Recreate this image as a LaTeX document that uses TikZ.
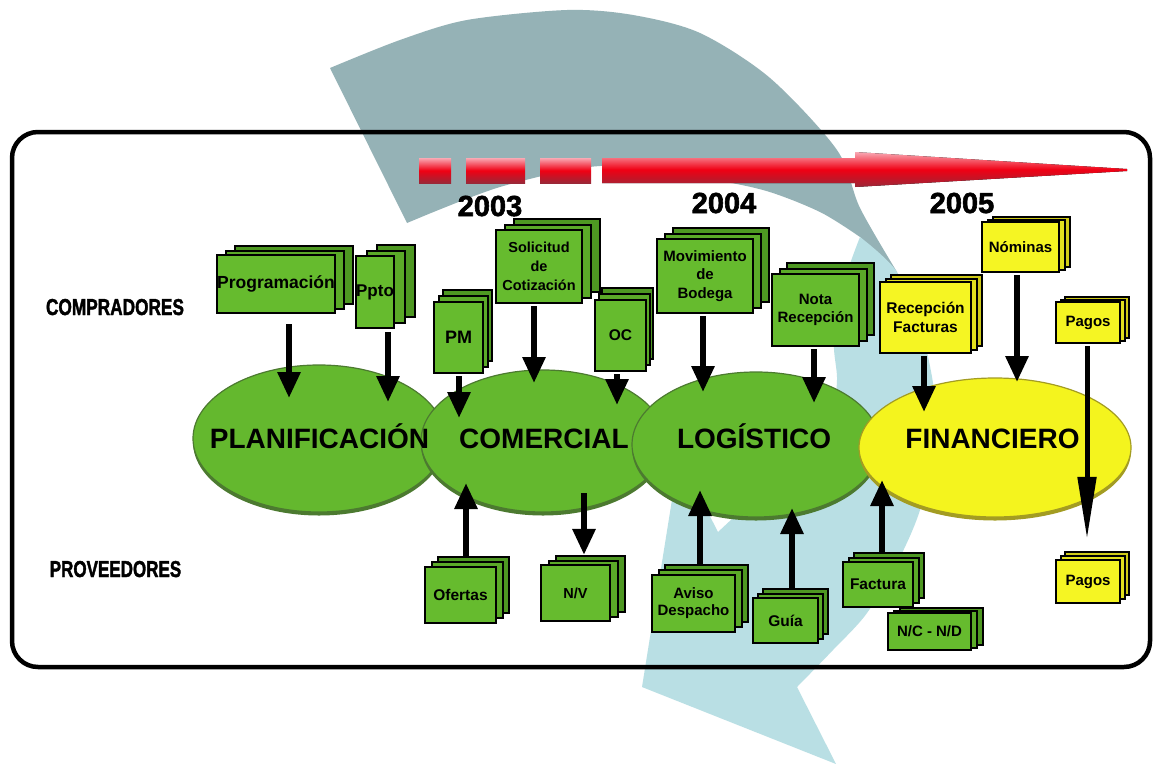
\documentclass[tikz,border=0pt]{standalone}
\usepackage{fontspec}
\setmainfont{Liberation Sans}
\newfontfamily\heavyfont[BoldFeatures={FakeBold=2}]{Liberation Sans}
\usetikzlibrary{arrows.meta,shadows,shapes.geometric}
\definecolor{bandgray}{HTML}{95B2B6}
\definecolor{bandblue}{HTML}{B9DFE4}
\definecolor{gfill}{HTML}{66BB2E}
\definecolor{gmid}{HTML}{5BAA28}
\definecolor{gback}{HTML}{4E9822}
\definecolor{yfill}{HTML}{F5F523}
\definecolor{ymid}{HTML}{E2E01E}
\definecolor{yback}{HTML}{CFCB18}
\definecolor{egreen}{HTML}{64B82E}
\definecolor{erim}{HTML}{4C7A30}
\definecolor{eyellow}{HTML}{F4F41E}
\definecolor{eyrim}{HTML}{A39C22}
\definecolor{rtop}{HTML}{F9A9B4}
\definecolor{rmid}{HTML}{F00014}
\definecolor{rbot}{HTML}{9A2838}
\begin{document}
\begin{tikzpicture}[x=1pt,y=-1pt,
  doc/.style={draw=black, line width=2.2pt, inner sep=0pt, align=center, text=black,
    font=\bfseries\fontsize{15.5}{18.5}\selectfont},
  gdoc/.style 2 args={doc, fill=gfill,
    copy shadow={shadow xshift=#1*2pt, shadow yshift=#2*2pt, fill=gback, draw=black, line width=2pt},
    copy shadow={shadow xshift=#1*1pt, shadow yshift=#2*1pt, fill=gmid, draw=black, line width=2pt}},
  ydoc/.style 2 args={doc, fill=yfill,
    copy shadow={shadow xshift=#1*2pt, shadow yshift=#2*2pt, fill=yback, draw=black, line width=2pt},
    copy shadow={shadow xshift=#1*1pt, shadow yshift=#2*1pt, fill=ymid, draw=black, line width=2pt}},
  gell/.style={ellipse, inner sep=0pt, fill=egreen, draw=erim, line width=1.2pt,
    drop shadow={shadow xshift=0pt, shadow yshift=-3.5pt, fill=erim, opacity=1}},
  yell/.style={ellipse, inner sep=0pt, fill=eyellow, draw=eyrim, line width=1.2pt,
    drop shadow={shadow xshift=0pt, shadow yshift=-3.5pt, fill=eyrim, opacity=1}},
  elltext/.style={anchor=base, inner sep=0pt, font=\bfseries\fontsize{28}{30}\selectfont},
  year/.style={anchor=base, inner sep=0pt, font=\heavyfont\bfseries\fontsize{29}{30}\selectfont},
  side/.style={anchor=base, inner sep=0pt, font=\heavyfont\bfseries\fontsize{23}{24}\selectfont},
  arr/.style={line width=6pt, -{Triangle[length=26pt,width=22pt]}},
  redsh/.style={top color=rtop, bottom color=rbot, middle color=rmid}
]
\useasboundingbox (0,0) rectangle (1156,763);
\fill[white] (0,0) rectangle (1156,763);

% big curved arrow band
\fill[bandgray] plot[smooth] coordinates {(330,68) (400,40) (467,20) (567,10) (633,15) (700,33) (770,78) (837,150) (860,208) (897,272)}
  -- (860,237)
  -- plot[smooth] coordinates {(860,237) (820,212) (763,190) (690,176) (600,166) (500,187) (407,223)} -- cycle;
\fill[bandblue] plot[smooth] coordinates {(860,237) (897,272) (922,333) (935,400) (930,460) (920,510) (900,557) (867,613) (833,650) (797,687)}
  -- (836,764) -- (642,687) -- (679,456) -- (718,532) -- (733,518)
  -- plot[smooth] coordinates {(733,518) (790,465) (830,415) (837,380) (834,340) (845,280) (860,237)} -- cycle;

% frame
\draw[line width=4.5pt, rounded corners=26pt] (12,132) rectangle (1150,667);

% red dashed timeline arrow
\fill[redsh] (419,158) rectangle (451,183);
\fill[redsh] (466,158) rectangle (525,183);
\fill[redsh] (540,158) rectangle (591,183);
\fill[redsh] (602,158) -- (855,158) -- (855,152) -- (1127,169) -- (1127,171) -- (855,187) -- (855,183) -- (602,183) -- cycle;

% years
\node[year] (y3) at (490,216) {2003};
\node[year] (y4) at (724,213) {2004};
\node[year] (y5) at (962,213) {2005};

% side labels
\node[side] (comp) at (115,315) {\scalebox{0.75}[1]{COMPRADORES}};
\node[side] (prov) at (115.5,577) {\scalebox{0.74}[1]{PROVEEDORES}};

% process ellipses
\node[gell, minimum width=252pt, minimum height=147pt] (plan) at (319,438.5) {};
\node[gell, minimum width=244pt, minimum height=142pt] (com) at (543,441) {};
\node[gell, minimum width=248pt, minimum height=145pt] (log) at (756,444.5) {};
\node[yell, minimum width=272pt, minimum height=139pt] (fin) at (995,447.5) {};
\node[elltext] (tplan) at (319.5,448) {PLANIFICACIÓN};
\node[elltext] (tcom) at (544,448) {COMERCIAL};
\node[elltext] (tlog) at (754,448) {LOGÍSTICO};
\node[elltext] (tfin) at (992.5,448) {FINANCIERO};

% document stacks (buyers)
\node[gdoc={9}{4.5}, minimum width=114pt, minimum height=58pt, font=\bfseries\fontsize{17.5}{20}\selectfont] (prog) at (276,284) {Programación};
\node[gdoc={10.5}{5.5}, minimum width=38pt, minimum height=72pt, font=\bfseries\fontsize{17}{20}\selectfont] (ppto) at (375,292) {Ppto};
\node[gdoc={4.5}{6}, minimum width=49pt, minimum height=71pt, font=\bfseries\fontsize{18}{20}\selectfont] (pm) at (458.5,337.5) {PM};
\node[gdoc={9}{5.5}, minimum width=86pt, minimum height=73pt, font=\bfseries\fontsize{14.5}{19}\selectfont] (sol) at (539,266.5) {Solicitud\\de\\Cotización};
\node[gdoc={3.5}{6}, minimum width=51pt, minimum height=71pt, font=\bfseries\fontsize{15.5}{18}\selectfont] (oc) at (620.5,335.5) {OC};
\node[gdoc={8}{5.5}, minimum width=96pt, minimum height=74pt, font=\bfseries\fontsize{15}{18.5}\selectfont] (mov) at (705,276) {Movimiento\\de\\Bodega};
\node[gdoc={7.5}{5.5}, minimum width=87pt, minimum height=72pt, font=\bfseries\fontsize{15}{18.5}\selectfont] (nota) at (815.5,310) {Nota\\Recepción};
\node[ydoc={5.5}{3.5}, minimum width=91pt, minimum height=71pt] (recf) at (925.5,317.5) {Recepción\\Facturas};
\node[ydoc={5.5}{2.5}, minimum width=77pt, minimum height=50pt, font=\bfseries\fontsize{15}{18}\selectfont] (nom) at (1020.5,247) {Nóminas};
\node[ydoc={4.5}{2.5}, minimum width=64pt, minimum height=41pt, font=\bfseries\fontsize{15}{18}\selectfont] (pag1) at (1088,322.5) {Pagos};

% document stacks (suppliers)
\node[gdoc={6.5}{5}, minimum width=71pt, minimum height=56pt] (ofer) at (460.5,595) {Ofertas};
\node[gdoc={7.5}{4.5}, minimum width=69pt, minimum height=56pt, font=\bfseries\fontsize{14.5}{18}\selectfont] (nv) at (575.5,593) {N/V};
\node[gdoc={6.5}{5}, minimum width=83pt, minimum height=57pt, font=\bfseries\fontsize{15}{17}\selectfont] (aviso) at (693.5,603.5) {Aviso\\Despacho};
\node[gdoc={5}{4.5}, minimum width=65pt, minimum height=45pt] (guia) at (785.5,620.5) {Guía};
\node[gdoc={5.5}{4.5}, minimum width=70pt, minimum height=45pt] (fact) at (878,584.5) {Factura};
\node[gdoc={6}{2.5}, minimum width=83pt, minimum height=37pt, font=\bfseries\fontsize{15}{18}\selectfont] (ncnd) at (929.5,631.5) {N/C - N/D};
\node[ydoc={4.5}{4}, minimum width=64pt, minimum height=43pt, font=\bfseries\fontsize{15}{18}\selectfont] (pag2) at (1088,581.5) {Pagos};

% connectors: buyers -> processes
\draw[arr] ([shift={(13pt,-10pt)}]prog.south) -- ([shift={(-30pt,40.5pt)}]plan.center);
\draw[arr] ([shift={(13pt,-3pt)}]ppto.south) -- ([shift={(69pt,36.5pt)}]plan.center);
\draw[arr] ([shift={(0.5pt,-2pt)}]pm.south) -- ([shift={(-84pt,23pt)}]com.center);
\draw[arr] ([shift={(-5pt,-2pt)}]sol.south) -- ([shift={(-9pt,58pt)}]com.center);
\draw[arr] ([shift={(-3.5pt,-2pt)}]oc.south) -- ([shift={(74pt,36pt)}]com.center);
\draw[arr] ([shift={(-2pt,-2pt)}]mov.south) -- ([shift={(-53pt,52.5pt)}]log.center);
\draw[arr] ([shift={(-1.5pt,-2pt)}]nota.south) -- ([shift={(58pt,41.5pt)}]log.center);
\draw[arr] ([shift={(-1.5pt,-2pt)}]recf.south) -- ([shift={(-71pt,35.5pt)}]fin.center);
\draw[arr] ([shift={(-3.5pt,-2pt)}]nom.south) -- ([shift={(22pt,65.5pt)}]fin.center);
\draw[line width=5pt, -{Triangle[length=62pt,width=18pt]}] ([shift={(-1pt,-2pt)}]pag1.south) -- ([shift={(-1pt,20pt)}]pag2.north);

% connectors: suppliers <-> processes
\draw[arr] ([shift={(5.5pt,10pt)}]ofer.north) -- ([shift={(-77pt,-42pt)}]com.center);
\draw[arr] ([shift={(41pt,-52pt)}]com.center) -- ([shift={(8.5pt,9pt)}]nv.north);
\draw[arr] ([shift={(6.5pt,10pt)}]aviso.north) -- ([shift={(-56pt,-45.5pt)}]log.center);
\draw[arr] ([shift={(6.5pt,9pt)}]guia.north) -- ([shift={(36pt,-63.5pt)}]log.center);
\draw[arr] ([shift={(4pt,9pt)}]fact.north) -- ([shift={(-113pt,-32.5pt)}]fin.center);
\end{tikzpicture}
\end{document}
